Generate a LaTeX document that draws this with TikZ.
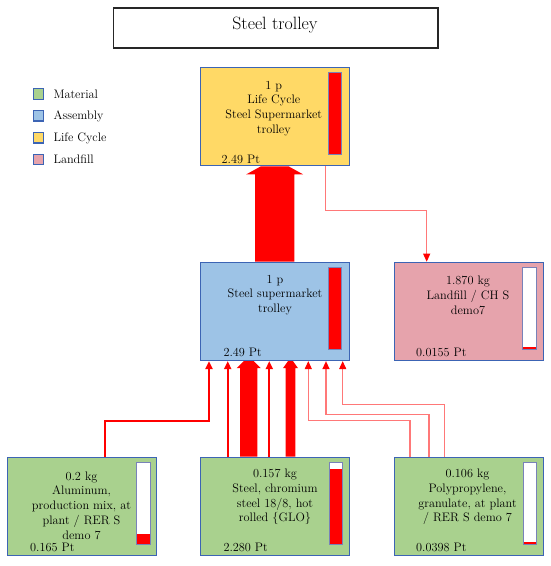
\documentclass[tikz,border=0pt]{standalone}
\usetikzlibrary{calc,arrows.meta,backgrounds}
\definecolor{matfill}{RGB}{169,209,142}
\definecolor{asmfill}{RGB}{157,195,230}
\definecolor{lcfill}{RGB}{255,217,102}
\definecolor{lffill}{RGB}{230,163,172}
\definecolor{boxedge}{RGB}{60,100,180}
\definecolor{baredge}{RGB}{120,130,185}
\definecolor{flowred}{RGB}{255,0,0}
\definecolor{flowlight}{RGB}{255,120,120}
\tikzset{
 procbox/.style={draw=boxedge, line width=1.1pt, minimum width=149pt, minimum height=98.3pt, inner sep=0pt, anchor=north west},
 boxtext/.style={align=center, font=\fontsize{12.3}{14.7}\selectfont, inner sep=0pt},
 ptlabel/.style={anchor=base west, font=\fontsize{12.3}{14.7}\selectfont, inner sep=0pt},
 legsq/.style={draw=boxedge, line width=1.1pt, minimum size=10.5pt, inner sep=0pt},
 legtext/.style={anchor=base west, font=\fontsize{12.3}{14.7}\selectfont, inner sep=0pt},
 thinflow/.style={draw=flowred, line width=2pt, -{Triangle[width=7pt,length=8pt]}},
 lightflow/.style={draw=flowlight, line width=1.3pt, -{Triangle[width=7pt,length=8pt,color=flowred,fill=flowred]}},
}
% fat flow arrow: #1 start, #2 tip, #3 shaft width, #4 head base width, #5 head top width, #6 head height
\newcommand{\fatarrow}[6]{%
 \fill[flowred] let \p1=(#1), \p2=(#2) in
  ({\x2-#3pt/2},\y1) -- ({\x2-#3pt/2},{\y2-#6pt}) -- ({\x2-#4pt/2},{\y2-#6pt}) --
  ({\x2-#5pt/2},\y2) -- ({\x2+#5pt/2},\y2) -- ({\x2+#4pt/2},{\y2-#6pt}) --
  ({\x2+#3pt/2},{\y2-#6pt}) -- ({\x2+#3pt/2},\y1) -- cycle;}
% impact bar: #1 box, #2 x offset, #3 red height
\newcommand{\impbar}[3]{%
 \fill[white] ($(#1.north west)+(#2,5.3)$) rectangle ($(#1.north west)+(#2+13.4,87.3)$);
 \fill[flowred] ($(#1.north west)+(#2,87.3)$) rectangle ($(#1.north west)+(#2+13.4,87.3-#3)$);
 \draw[baredge, line width=0.6pt] ($(#1.north west)+(#2,5.3)$) rectangle ($(#1.north west)+(#2+13.4,87.3)$);}
\begin{document}
\begin{tikzpicture}[x=1pt,y=-1pt]
\useasboundingbox (0,0) rectangle (550,566);

% title
\node[draw=black!85, line width=1.4pt, minimum width=324.6pt, minimum height=40pt, inner sep=0pt, anchor=north west] (title) at (112.7,7.3) {};
\node[anchor=base, font=\fontsize{17.8}{21}\selectfont, inner sep=0pt] (titletext) at (275,29) {Steel trolley};

% legend
\node[legsq, fill=matfill] (lg1) at (38.5,94) {};
\node[legsq, fill=asmfill] (lg2) at (38.5,115.7) {};
\node[legsq, fill=lcfill] (lg3) at (38.5,137.7) {};
\node[legsq, fill=lffill] (lg4) at (38.5,159.3) {};
\node[legtext] (lt1) at (53.3,98.2) {Material};
\node[legtext] (lt2) at (53.3,119.9) {Assembly};
\node[legtext] (lt3) at (53.3,141.9) {Life Cycle};
\node[legtext] (lt4) at (53.3,163.5) {Landfill};

% boxes
\node[procbox, fill=lcfill] (lc) at (200,67) {};
\node[procbox, fill=asmfill] (asm) at (200,261.7) {};
\node[procbox, fill=lffill] (lf) at (394.3,261.7) {};
\node[procbox, fill=matfill] (alu) at (6.7,456.7) {};
\node[procbox, fill=matfill] (st) at (200,456.7) {};
\node[procbox, fill=matfill] (pp) at (394.3,456.7) {};

% box texts
\node[boxtext] (lct) at ($(lc.north west)+(73.8,41.5)$) {1 p\\Life Cycle\\Steel Supermarket\\trolley};
\node[boxtext] (asmt) at ($(asm.north west)+(75,33.3)$) {1 p\\Steel supermarket\\trolley};
\node[boxtext] (lft) at ($(lf.north west)+(73.7,33.8)$) {1.870 kg\\Landfill / CH S\\demo7};
\node[boxtext] (alut) at ($(alu.north west)+(74.8,48.8)$) {0.2 kg\\Aluminum,\\production mix, at\\plant / RER S\\demo 7};
\node[boxtext] (stt) at ($(st.north west)+(75,40.5)$) {0.157 kg\\Steel, chromium\\steel 18/8, hot\\rolled \{GLO\}};
\node[boxtext] (ppt) at ($(pp.north west)+(73.2,40.5)$) {0.106 kg\\Polypropylene,\\granulate, at plant\\/ RER S demo 7};

% point labels
\node[ptlabel] (lcp) at ($(lc.north west)+(21.5,96)$) {2.49 Pt};
\node[ptlabel] (asmp) at ($(asm.north west)+(23.3,94.3)$) {2.49 Pt};
\node[ptlabel] (lfp) at ($(lf.north west)+(21.7,94.3)$) {0.0155 Pt};
\node[ptlabel] (alup) at ($(alu.north west)+(23.3,94.3)$) {0.165 Pt};
\node[ptlabel] (stp) at ($(st.north west)+(23.3,94.8)$) {2.280 Pt};
\node[ptlabel] (ppp) at ($(pp.north west)+(21.7,95.2)$) {0.0398 Pt};

% impact bars
\impbar{lc}{128.3}{82}
\impbar{asm}{128.3}{82}
\impbar{lf}{128.4}{1.6}
\impbar{alu}{130}{9.7}
\impbar{st}{129.3}{75}
\impbar{pp}{128.7}{1.6}

% flows (behind boxes)
\begin{scope}[on background layer]
\fill[white] (0,0) rectangle (550,566);
\fatarrow{$(asm.north west)+(74.7,0)$}{$(lc.south west)+(74.7,0)$}{39.3}{57}{28}{8}
\fatarrow{$(st.north west)+(48.7,0)$}{$(asm.south west)+(48.7,0)$}{17.3}{24}{10}{7}
\fatarrow{$(st.north west)+(90.5,0)$}{$(asm.south west)+(90.5,0)$}{9.6}{15}{5}{7}
\draw[thinflow, line width=2.3pt] ($(alu.north west)+(98.3,0)$) |- ($(asm.south west)+(9,60)$) -- ($(asm.south west)+(9,0)$);
\draw[thinflow] ($(st.north west)+(27.7,0)$) -- ($(asm.south west)+(27.7,0)$);
\draw[thinflow] ($(st.north west)+(69.3,0)$) -- ($(asm.south west)+(69.3,0)$);
\draw[lightflow] ($(pp.north west)+(15.7,0)$) |- ($(asm.south west)+(108.3,59.3)$) -- ($(asm.south west)+(108.3,0)$);
\draw[lightflow] ($(pp.north west)+(34.7,0)$) |- ($(asm.south west)+(126,53.3)$) -- ($(asm.south west)+(126,0)$);
\draw[lightflow] ($(pp.north west)+(50,0)$) |- ($(asm.south west)+(142.7,43.3)$) -- ($(asm.south west)+(142.7,0)$);
\draw[lightflow, line width=1pt] ($(lc.south west)+(125,0)$) |- ($(lf.north west)+(32.4,-51.7)$) -- ($(lf.north west)+(32.4,0)$);
\end{scope}
\end{tikzpicture}
\end{document}
